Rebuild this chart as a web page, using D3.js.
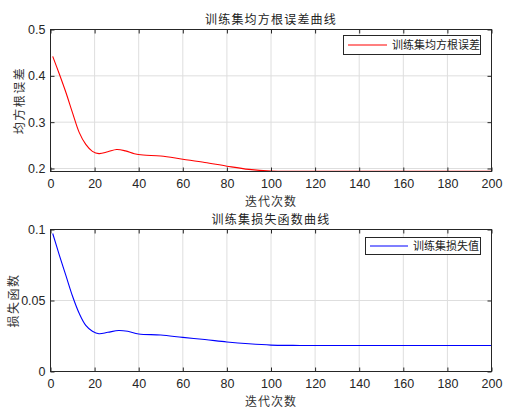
<!DOCTYPE html>
<html><head><meta charset="utf-8">
<script src="https://cdn.jsdelivr.net/npm/d3@7"></script>
<style>body{margin:0;background:#fff}svg{display:block}</style>
</head><body>
<script>
// Data
const rmseIter = [1,4,7,10,13,16,19,22,26,30,34,38,42,50,60,70,80,90,100,110,120,140,160,180,200];
const rmseVals = [0.442,0.404,0.364,0.320,0.278,0.252,0.237,0.232,0.236,0.241,0.238,0.232,0.229,0.227,0.220,0.213,0.205,0.198,0.1945,0.1938,0.1937,0.1937,0.1937,0.1937,0.1937];
const lossIter = [1,4,7,10,13,16,19,22,26,31,35,40,50,60,70,80,90,100,110,120,140,160,180,200];
const lossVals = [0.0972,0.082,0.0675,0.053,0.041,0.0325,0.0284,0.0266,0.0276,0.0289,0.0283,0.0264,0.0257,0.0240,0.0225,0.0208,0.0195,0.0186,0.0184,0.0183,0.0183,0.0183,0.0183,0.0183];
const xTicks = [0,20,40,60,80,100,120,140,160,180,200];
const rmseTicks = [0.2,0.3,0.4,0.5];
const lossTicks = [0,0.05,0.1];

const W=509,H=412;
const svg=d3.select("body").append("svg").attr("width",W).attr("height",H);
const cjk='"Noto Sans CJK SC", sans-serif';
const latin='"Liberation Sans", Arial, sans-serif';
const axisCol="#262626";

function panel(o){
  const g=svg.append("g");
  const x=d3.scaleLinear().domain([0,200]).range([o.left,o.right]);
  const y=d3.scaleLinear().domain(o.ydom).range([o.bottom,o.top]);
  g.selectAll(".gx").data(xTicks).enter().append("line")
    .attr("x1",d=>x(d)).attr("x2",d=>x(d)).attr("y1",o.top).attr("y2",o.bottom)
    .attr("stroke","#dedede").attr("stroke-width",1);
  g.selectAll(".gy").data(o.yticks).enter().append("line")
    .attr("x1",o.left).attr("x2",o.right).attr("y1",d=>y(d)).attr("y2",d=>y(d))
    .attr("stroke","#dedede").attr("stroke-width",1);
  const pts=o.xs.map((v,i)=>[v,o.ys[i]]);
  g.append("path").datum(pts)
    .attr("d",d3.line().x(d=>x(d[0])).y(d=>y(d[1])).curve(d3.curveCatmullRom.alpha(0.5)))
    .attr("fill","none").attr("stroke",o.color).attr("stroke-width",1.1);
  const bx=d3.axisBottom(x).tickValues(xTicks).tickSizeInner(-4).tickSizeOuter(0).tickPadding(8);
  const tx=d3.axisTop(x).tickValues(xTicks).tickSizeInner(-4).tickSizeOuter(0).tickFormat("");
  const ly=d3.axisLeft(y).tickValues(o.yticks).tickSizeInner(-4).tickSizeOuter(0).tickPadding(5).tickFormat(o.fmt);
  const ry=d3.axisRight(y).tickValues(o.yticks).tickSizeInner(-4).tickSizeOuter(0).tickFormat("");
  [[bx,`translate(0,${o.bottom})`],[tx,`translate(0,${o.top})`],[ly,`translate(${o.left},0)`],[ry,`translate(${o.right},0)`]].forEach(([a,t])=>{
    const ag=g.append("g").attr("transform",t).call(a);
    ag.select(".domain").remove();
    ag.selectAll("line").attr("stroke",axisCol);
    ag.selectAll("text").attr("fill",axisCol).style("font-family",latin).style("font-size","12.5px");
  });
  g.append("rect").attr("x",o.left).attr("y",o.top).attr("width",o.right-o.left).attr("height",o.bottom-o.top)
    .attr("fill","none").attr("stroke",axisCol).attr("stroke-width",1);
  g.append("text").attr("x",(o.left+o.right)/2).attr("y",o.titleY).attr("text-anchor","middle")
    .style("font-family",cjk).style("font-size","12px").style("letter-spacing","1.2px").attr("fill","#222").text(o.title);
  g.append("text").attr("x",(o.left+o.right)/2).attr("y",o.xlabY).attr("text-anchor","middle")
    .style("font-family",cjk).style("font-size","12px").style("letter-spacing","1px").attr("fill","#333").text("迭代次数");
  g.append("text").attr("transform",`translate(${o.ylabX},${(o.top+o.bottom)/2}) rotate(-90)`).attr("text-anchor","middle")
    .style("font-family",cjk).style("font-size","12px").style("letter-spacing","1.5px").attr("fill","#333").text(o.ylabel);
  const L=o.leg;
  g.append("rect").attr("x",L.x0).attr("y",L.y0).attr("width",L.x1-L.x0).attr("height",L.y1-L.y0)
    .attr("fill","#fff").attr("stroke",axisCol).attr("stroke-width",1);
  const ly0=(L.y0+L.y1)/2;
  g.append("line").attr("x1",L.l0).attr("x2",L.l1).attr("y1",ly0).attr("y2",ly0).attr("stroke",o.color).attr("stroke-width",1.2);
  g.append("text").attr("x",L.t).attr("y",ly0+4).style("font-family",cjk).style("font-size","11px").attr("fill","#222").text(o.legText);
}

panel({left:50.5,right:491.5,top:29.5,bottom:171.5,ydom:[0.1935,0.5],yticks:rmseTicks,fmt:d3.format(".1f"),
  xs:rmseIter,ys:rmseVals,color:"#ff0000",title:"训练集均方根误差曲线",titleY:24,xlabY:206,ylabX:24,ylabel:"均方根误差",
  leg:{x0:343.5,x1:480.5,y0:35.5,y1:54.5,l0:348,l1:387,t:392},legText:"训练集均方根误差"});
panel({left:50.5,right:491.5,top:229.5,bottom:371.5,ydom:[0,0.1],yticks:lossTicks,fmt:d=>d===0?"0":(d===0.1?"0.1":"0.05"),
  xs:lossIter,ys:lossVals,color:"#0000ff",title:"训练集损失函数曲线",titleY:224,xlabY:406,ylabX:18,ylabel:"损失函数",
  leg:{x0:365.5,x1:480.5,y0:237.5,y1:254.5,l0:370,l1:408,t:413},legText:"训练集损失值"});
</script>
</body></html>
